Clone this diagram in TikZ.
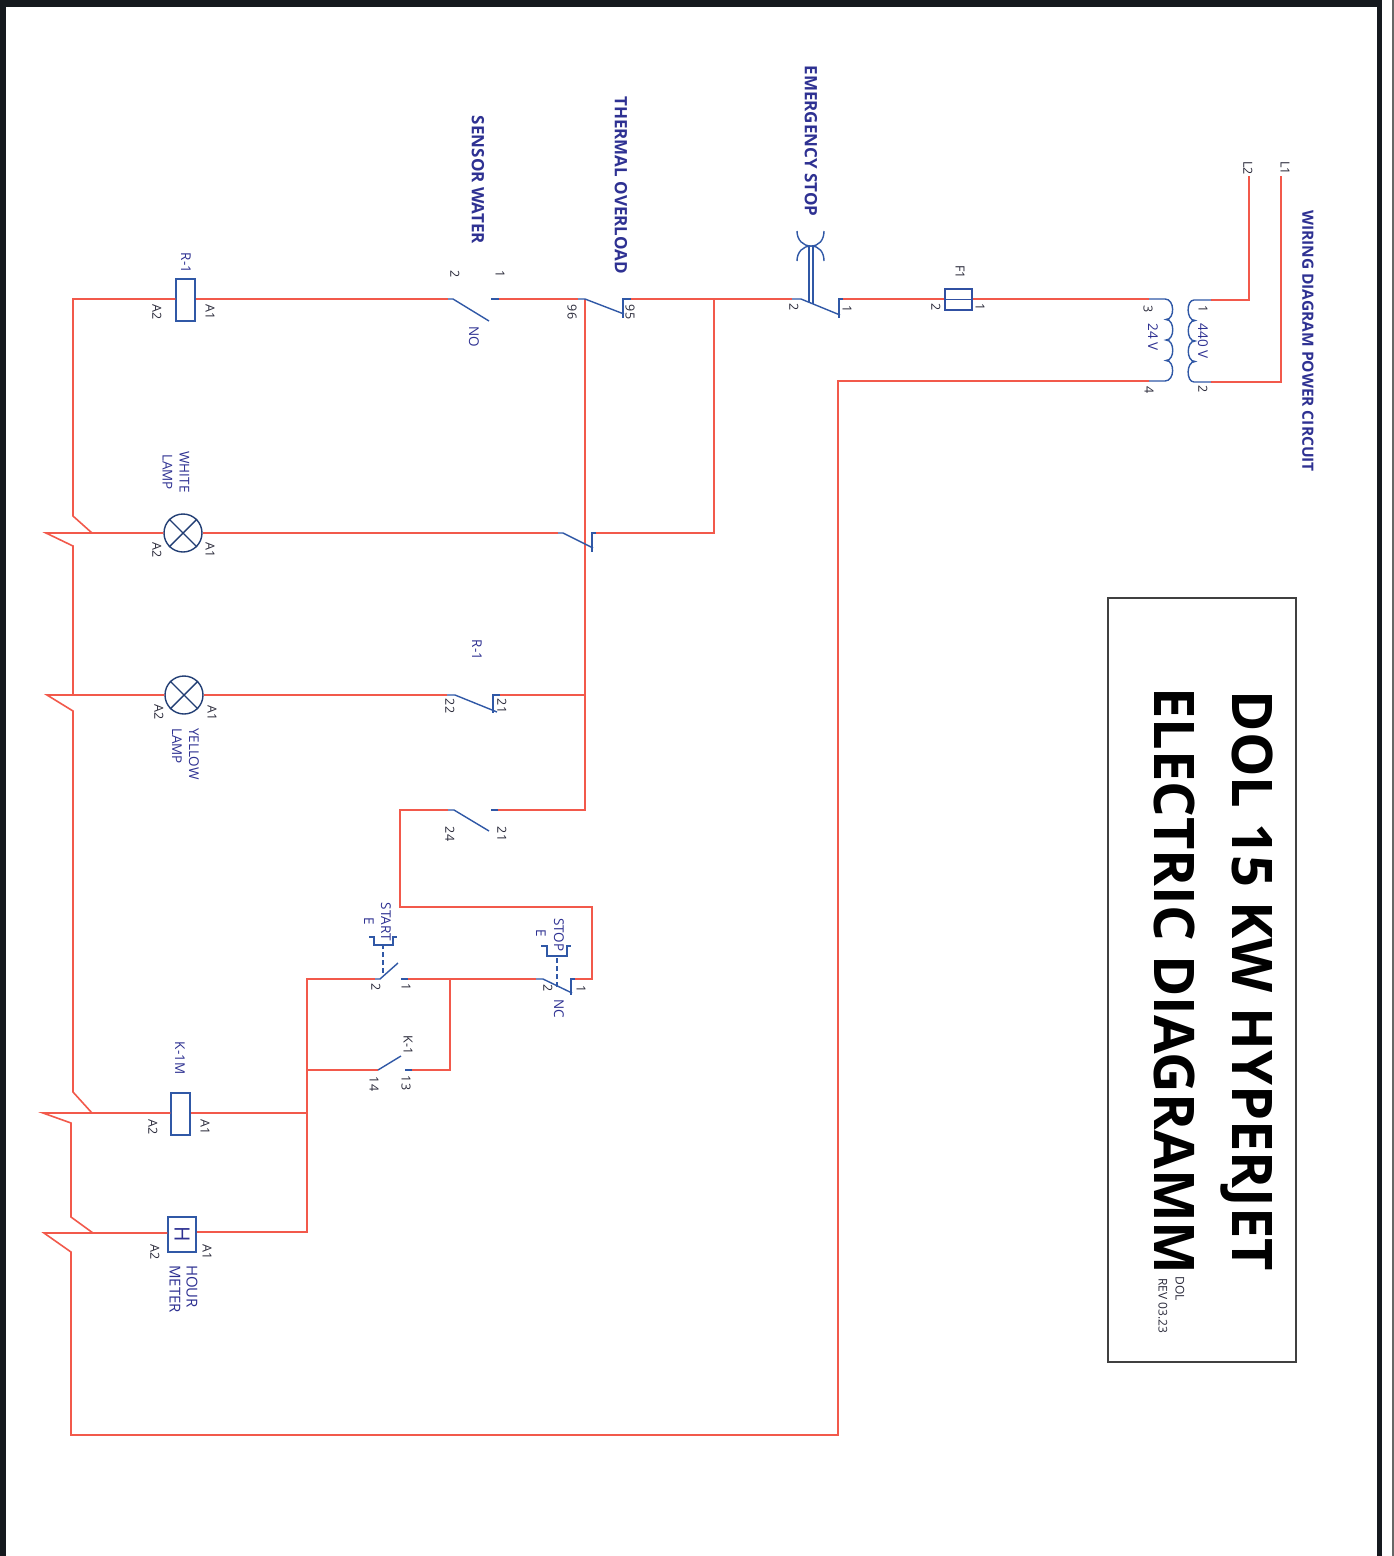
\documentclass[tikz,border=0pt]{standalone}
\usepackage{fontspec}
\setmainfont{Open Sans}
\definecolor{wire}{HTML}{F2594B}
\definecolor{sym}{HTML}{3058A6}
\definecolor{navy}{HTML}{2E3192}
\definecolor{ink}{HTML}{2A2A3A}
\definecolor{framec}{HTML}{15191E}
\tikzset{
  wirel/.style={draw=wire,line width=1.6pt,line join=miter},
  syml/.style={draw=sym,line width=1.4pt},
  dashl/.style={draw=sym,line width=1.2pt,dash pattern=on 5pt off 3pt},
  lbl/.style={rotate=-90,inner sep=0pt,text=ink,font=\fontsize{12.5}{12.5}\selectfont},
  namel/.style={rotate=-90,inner sep=0pt,text=navy,align=center,font=\fontsize{13.5}{17}\selectfont},
  headl/.style={rotate=-90,inner sep=0pt,text=navy,font=\fontsize{17}{17}\bfseries\selectfont},
  ttl/.style={rotate=-90,inner sep=0pt,text=black,font=\fontsize{56}{56}\selectfont\bfseries},
  coilbox/.style={draw=sym,line width=1.4pt,fill=white,inner sep=0pt,minimum width=#1},
  lampc/.style={circle,draw=sym!70!black,line width=1.4pt,fill=white,inner sep=0pt,minimum size=38pt},
}
\begin{document}
\begin{tikzpicture}[x=1pt,y=-1pt]
\useasboundingbox (0,0) rectangle (1394,1556);
\fill[white] (0,0) rectangle (1394,1556);
% frame
\fill[framec] (0,0) rectangle (1382,7);
\fill[framec] (0,0) rectangle (6,1556);
\fill[framec] (1377,0) rectangle (1382,1556);
\fill[black!60] (1392,0) rectangle (1394,1556);
% junctions and wire corners
\coordinate (L1) at (1281,176); \coordinate (L1b) at (1281,382); \coordinate (P2) at (1211,382);
\coordinate (L2) at (1249,176); \coordinate (L2b) at (1249,300); \coordinate (P1) at (1211,300);
\coordinate (S3) at (1149,299); \coordinate (S4) at (1149,381);
\coordinate (ES1) at (843,299); \coordinate (ES2) at (792,299);
\coordinate (Jt) at (714,299); \coordinate (T95) at (631,299); \coordinate (T96) at (578,299);
\coordinate (Jv) at (585,299);
\coordinate (N1) at (499,299); \coordinate (N2) at (448,299);
\coordinate (Rr) at (73,299); \coordinate (Rd) at (73,516); \coordinate (Wj) at (92,533);
\coordinate (Wt) at (46,533); \coordinate (Wd) at (73,546);
\coordinate (Wc1) at (596,533); \coordinate (Wc2) at (558,533); \coordinate (Wc3) at (714,533);
\coordinate (Yt) at (47,695); \coordinate (Yd) at (73,711); \coordinate (Yv) at (73,695);
\coordinate (Yc1) at (500,695); \coordinate (Yc2) at (447,695); \coordinate (Yj) at (585,695);
\coordinate (Kd) at (73,1092); \coordinate (Kj) at (92,1113); \coordinate (Kt) at (43,1113);
\coordinate (Kd2) at (71,1123); \coordinate (Hd) at (71,1217); \coordinate (Hj) at (93,1233);
\coordinate (Ht) at (44,1233); \coordinate (Hd2) at (71,1252);
\coordinate (Bl) at (71,1435); \coordinate (Br) at (838,1435); \coordinate (Tp) at (838,381);
\coordinate (A21) at (498,810); \coordinate (A24) at (448,810); \coordinate (Av) at (585,810);
\coordinate (Ac) at (400,810); \coordinate (Ad) at (400,907); \coordinate (Ae) at (592,907);
\coordinate (Af) at (592,979); \coordinate (St1) at (575,979); \coordinate (St2) at (536,979);
\coordinate (Jk) at (450,979); \coordinate (Sa1) at (408,979); \coordinate (Sa2) at (375,979);
\coordinate (Bus) at (307,979); \coordinate (K13b) at (450,1070); \coordinate (K13) at (412,1070);
\coordinate (K14) at (378,1070); \coordinate (BusK) at (307,1070); \coordinate (BusC) at (307,1113);
\coordinate (BusH) at (307,1232);
% components
\node[coilbox=19pt,minimum height=42pt] (coilR) at (185.5,300) {};
\node[coilbox=19pt,minimum height=42pt] (coilK) at (180.5,1114) {};
\node[coilbox=28pt,minimum height=35pt,text=navy,font=\fontsize{21}{21}\selectfont] (hour) at (182,1234.5) {\rotatebox{-90}{H}};
\node[lampc] (wl) at (183,533) {};
\node[lampc] (yl) at (184,695) {};
\node[draw=sym!80!navy,line width=1.4pt,inner sep=0pt,minimum width=27pt,minimum height=21pt] (fuse) at (958.5,299.5) {};
% wires
\draw[wirel] (L1) -- (L1b) -- (P2);
\draw[wirel] (L2) -- (L2b) -- (P1);
\draw[wirel] (S3) -- (fuse.east |- S3);
\draw[wirel] (fuse.west |- S3) -- (ES1);
\draw[wirel] (ES2) -- (T95);
\draw[wirel] (T96) -- (N1);
\draw[wirel] (N2) -- (coilR.east |- N2);
\draw[wirel] (coilR.west |- N2) -- (Rr) -- (Rd) -- (Wj);
\draw[wirel] (Jv) -- (Av) -- (A21);
\draw[wirel] (Jt) -- (Wc3) -- (Wc1);
\draw[wirel] (Wc2) -- (wl.east);
\draw[wirel] (wl.west) -- (Wt) -- (Wd) -- (Yv);
\draw[wirel] (Yj) -- (Yc1);
\draw[wirel] (Yc2) -- (yl.east);
\draw[wirel] (yl.west) -- (Yt) -- (Yd) -- (Kd) -- (Kj);
\draw[wirel] (A24) -- (Ac) -- (Ad) -- (Ae) -- (Af) -- (St1);
\draw[wirel] (St2) -- (Sa1);
\draw[wirel] (Sa2) -- (Bus) -- (BusH) -- (hour.east |- BusH);
\draw[wirel] (Jk) -- (K13b) -- (K13);
\draw[wirel] (K14) -- (BusK);
\draw[wirel] (BusC) -- (coilK.east |- BusC);
\draw[wirel] (coilK.west |- Kt) -- (Kt) -- (Kd2) -- (Hd) -- (Hj);
\draw[wirel] (hour.west |- Ht) -- (Ht) -- (Hd2) -- (Bl) -- (Br) -- (Tp) -- (S4);
% transformer
\draw[syml] (P1) -- (1194,300)
  .. controls (1186,300) and (1186,320.5) .. (1195,320.5)
  .. controls (1186,320.5) and (1186,341) .. (1195,341)
  .. controls (1186,341) and (1186,361.5) .. (1195,361.5)
  .. controls (1186,361.5) and (1186,382) .. (1194,382) -- (P2);
\draw[syml] (S3) -- (1165,299)
  .. controls (1175,299) and (1175,319.5) .. (1166,319.5)
  .. controls (1175,319.5) and (1175,340) .. (1166,340)
  .. controls (1175,340) and (1175,360.5) .. (1166,360.5)
  .. controls (1175,360.5) and (1175,381) .. (1165,381) -- (S4);
% fuse bar
\draw[draw=sym!80!navy,line width=1.4pt] (fuse.west) -- (fuse.east);
% emergency stop
\coordinate (ESa) at (843,299); \coordinate (ESb) at (839,299); \coordinate (ESc) at (839,318);
\coordinate (ESd) at (792,299); \coordinate (ESe) at (801,299); \coordinate (ESf) at (840,315);
\draw[syml] (ESa) -- (ESb) -- (ESc);
\draw[syml] (ESd) -- (ESe) -- (ESf);
\coordinate (ESm) at (811,246);
\draw[syml] (809,246) -- (809,302);
\draw[syml] (813,246) -- (813,304);
\draw[syml] (797,231) .. controls (797,240) and (803,246) .. (ESm) .. controls (803,246) and (797,252) .. (797,261);
\draw[syml] (824,231) .. controls (824,240) and (819,246) .. (ESm) .. controls (819,246) and (824,252) .. (824,261);
% thermal overload
\draw[syml] (T95) -- (623,299) -- (623,318);
\draw[syml] (T96) -- (585,299) -- (624,314);
% sensor NO
\draw[syml] (N1) -- (491,299);
\draw[syml] (N2) -- (453,299) -- (489,321);
% white lamp contact
\draw[syml] (Wc1) -- (592,533) -- (592,552);
\draw[syml] (Wc2) -- (563,533) -- (593,548);
% yellow lamp contact
\draw[syml] (Yc1) -- (493,695) -- (493,713);
\draw[syml] (Yc2) -- (455,695) -- (497,712);
% 24/21 contact
\draw[syml] (A21) -- (491,810);
\draw[syml] (A24) -- (454,810) -- (489,831);
% stop button
\draw[syml] (St1) -- (571,979) -- (571,995);
\draw[syml] (St2) -- (543,979) -- (572,993);
\draw[dashl] (557,987) -- (557,956);
\draw[syml] (541,946) -- (547,946) -- (547,956) -- (567,956) -- (567,946) -- (571,946);
% start button
\draw[syml] (Sa1) -- (401,979);
\draw[syml] (Sa2) -- (380,979) -- (398,963);
\draw[dashl] (383,973) -- (383,945);
\draw[syml] (369,937) -- (374,937) -- (374,945) -- (393,945) -- (393,937) -- (397,937);
% K-1
\draw[syml] (K13) -- (405,1070);
\draw[syml] (K14) -- (401,1056);
% lamps crosses
\draw[draw=sym!70!black,line width=1.4pt] (wl.45) -- (wl.225) (wl.135) -- (wl.315);
\draw[draw=sym!70!black,line width=1.4pt] (yl.45) -- (yl.225) (yl.135) -- (yl.315);
% title box
\node[draw=black!75,line width=1.2pt,inner sep=0pt,minimum width=188pt,minimum height=764pt] (tbox) at (1202,980) {};
\node[ttl] (t1) at (1247,981) {DOL 15 KW HYPERJET};
\node[ttl] (t2) at (1174,981) {ELECTRIC DIAGRAMM};
\node[lbl,font=\fontsize{12}{12}\selectfont] (t3) at (1180,1289) {DOL};
\node[lbl,font=\fontsize{12}{12}\selectfont] (t4) at (1163,1306) {REV 03.23};
% headings
\node[headl,font=\fontsize{15.5}{15.5}\bfseries\selectfont] (h1) at (1308,341) {WIRING DIAGRAM POWER CIRCUIT};
\node[headl] (h2) at (811,141) {EMERGENCY STOP};
\node[headl] (h3) at (621,185) {THERMAL OVERLOAD};
\node[headl] (h4) at (478,180) {SENSOR WATER};
% labels
\node[lbl] (l1) at (1285,168) {L1};
\node[lbl] (l2) at (1248,168) {L2};
\node[lbl] (l3) at (1203,309) {1};
\node[namel] (l4) at (1203,341) {440 V};
\node[lbl] (l5) at (1203,389) {2};
\node[lbl] (l6) at (1148,309) {3};
\node[namel] (l7) at (1153,337) {24 V};
\node[lbl] (l8) at (1149,390) {4};
\node[lbl] (l9) at (960,272) {F1};
\node[lbl] (l10) at (980,307) {1};
\node[lbl] (l11) at (936,307) {2};
\node[lbl] (l12) at (847,309) {1};
\node[lbl] (l13) at (794,307) {2};
\node[lbl] (l14) at (500,274) {1};
\node[lbl] (l15) at (455,274) {2};
\node[namel] (l16) at (474,337) {NO};
\node[lbl] (l17) at (572,312) {96};
\node[lbl] (l18) at (630,312) {95};
\node[namel] (l19) at (186,263) {R-1};
\node[lbl] (l20) at (210,312) {A1};
\node[lbl] (l21) at (157,312) {A2};
\node[namel] (l22) at (176,472) {WHITE\\LAMP};
\node[lbl] (l23) at (210,550) {A1};
\node[lbl] (l24) at (157,550) {A2};
\node[namel] (l25) at (477,650) {R-1};
\node[lbl] (l26) at (450,706) {22};
\node[lbl] (l27) at (502,706) {21};
\node[lbl] (l28) at (212,713) {A1};
\node[lbl] (l29) at (159,712) {A2};
\node[namel,align=left] (l30) at (185.5,754) {YELLOW\\LAMP};
\node[lbl] (l31) at (450,834) {24};
\node[lbl] (l32) at (502,834) {21};
\node[namel] (l33) at (386,922) {START};
\node[namel] (l34) at (369,921) {E};
\node[namel] (l35) at (559,935) {STOP};
\node[namel] (l36) at (541,933) {E};
\node[lbl] (l37) at (406,987) {1};
\node[lbl] (l38) at (376,987) {2};
\node[lbl] (l39) at (581,989) {1};
\node[lbl] (l40) at (548,988) {2};
\node[namel] (l41) at (559,1009) {NC};
\node[lbl] (l42) at (408,1045) {K-1};
\node[lbl] (l43) at (406,1083) {13};
\node[lbl] (l44) at (374,1084) {14};
\node[namel] (l45) at (180,1058) {K-1M};
\node[lbl] (l46) at (205,1127) {A1};
\node[lbl] (l47) at (153,1127) {A2};
\node[namel,align=left,font=\fontsize{15}{17}\selectfont] (l48) at (183.5,1289) {HOUR\\METER};
\node[lbl] (l49) at (207,1252) {A1};
\node[lbl] (l50) at (155,1252) {A2};
\end{tikzpicture}
\end{document}
